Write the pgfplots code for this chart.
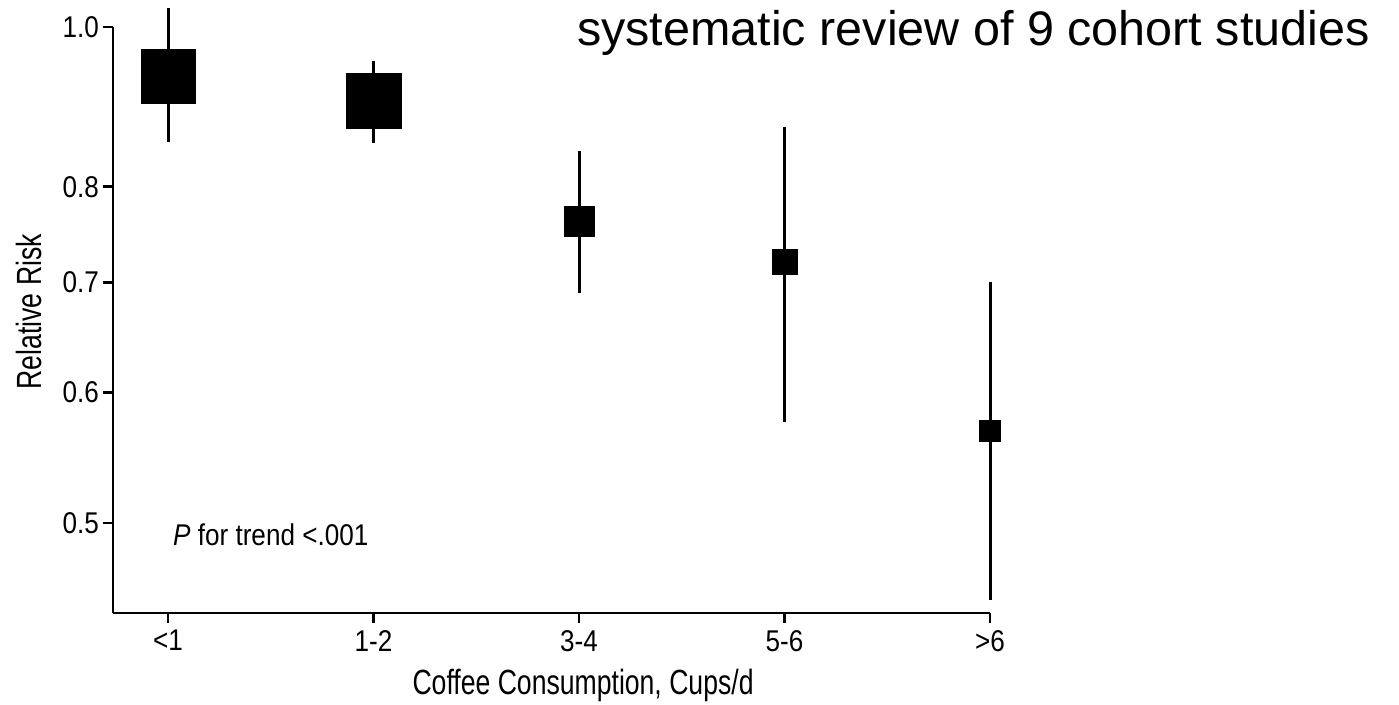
\documentclass[border=0pt]{standalone}
\usepackage{pgfplots}
\pgfplotsset{compat=1.18}
\usepackage{pgfplotstable}
\usepackage{fontspec}
\setmainfont{Liberation Sans}
\newfontfamily\ticksfont[FakeStretch=0.87]{Liberation Sans}
\newfontfamily\labelfont[FakeStretch=0.76]{Liberation Sans}

% Relative risk with 95% CI per coffee category; half = half side of the square
\pgfplotstableread{
cat rr    lo    hi    half
0   0.934 0.852 1.027 27
1   0.902 0.850 0.954 27.5
2   0.762 0.690 0.841 15
3   0.721 0.576 0.870 12.5
4   0.569 0.449 0.700 10.5
}\rrdata

\begin{document}
\begin{tikzpicture}
\useasboundingbox (0,0) rectangle (1399pt,704pt);
\begin{axis}[
  at={(113pt,91pt)}, anchor=south west,
  scale only axis, width=877pt, height=586pt,
  xmin=-0.268, xmax=4,
  ymode=log, ymin=0.441, ymax=1.0,
  axis x line*=bottom, axis y line*=left,
  axis line style={-, line width=2.5pt, black},
  xtick={0,1,2,3,4},
  xticklabels={<1,1-2,3-4,5-6,>6},
  ytick={0.5,0.6,0.7,0.8,1.0},
  yticklabels={0.5,0.6,0.7,0.8,1.0},
  yminorticks=false, xminorticks=false,
  tick align=outside,
  major tick length=10pt,
  major tick style={draw=black, line width=2.5pt},
  /pgf/number format/assume math mode=true,
  tick label style={font=\ticksfont\fontsize{30}{34}\selectfont},
  yticklabel style={inner sep=4pt},
  xticklabel style={inner sep=7pt},
  xlabel={Coffee Consumption, Cups/d},
  ylabel={Relative Risk},
  label style={font=\labelfont\fontsize{35}{40}\selectfont},
  xlabel style={at={(axis description cs:0.536,-0.123)}, anchor=center},
  ylabel style={at={(axis description cs:-0.0958,0.514)}, anchor=center, rotate=0},
  clip=false,
]
% confidence intervals
\addplot [only marks, mark=none,
  error bars/.cd, y dir=both, y explicit, error mark=none,
  error bar style={black, line width=3pt, solid}]
  table [x=cat, y=rr,
         y error plus expr=\thisrow{hi}-\thisrow{rr},
         y error minus expr=\thisrow{rr}-\thisrow{lo}] {\rrdata};
% point estimates, square size per category
\addplot [scatter, only marks, mark=square*,
  scatter/use mapped color={draw=black, fill=black},
  mark options={line width=0.4pt},
  visualization depends on={\thisrow{half} \as \halfside},
  scatter/@pre marker code/.append style={/tikz/mark size=\halfside}]
  table [x=cat, y=rr] {\rrdata};

\node[anchor=west, inner sep=0pt, font=\ticksfont\fontsize{30}{34}\selectfont]
  at (axis cs:0.024,0.4917) {\textit{P} for trend <.001};
\node[anchor=base west, inner sep=0pt, font=\fontsize{48.5}{56}\selectfont]
  at (axis description cs:0.529,0.969) {systematic review of 9 cohort studies};
\end{axis}
\end{tikzpicture}
\end{document}
